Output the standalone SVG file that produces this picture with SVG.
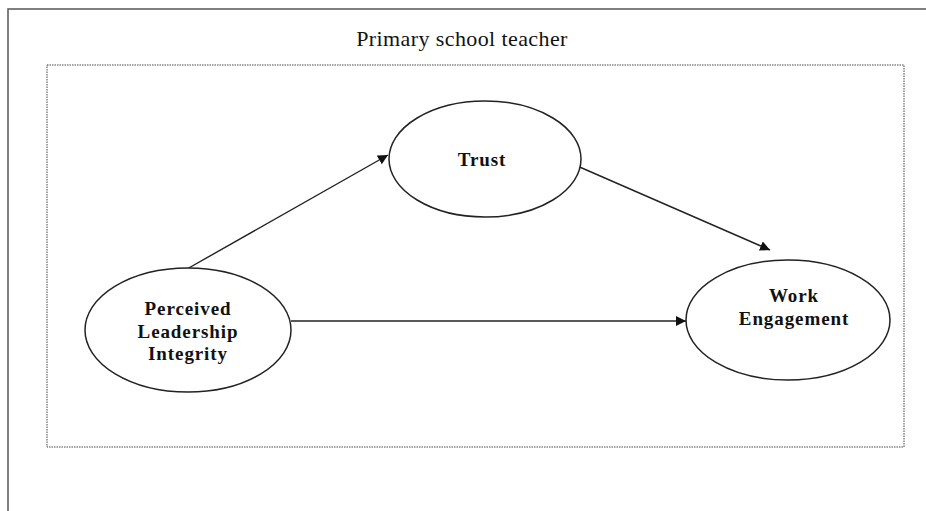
<svg xmlns="http://www.w3.org/2000/svg" width="926" height="511" viewBox="0 0 926 511">
<style>
.frame{fill:none;stroke:#555;stroke-width:1.5}
.box{fill:none;stroke:#444;stroke-width:1;stroke-dasharray:1.5 1}
.node{fill:#fff;stroke:#222;stroke-width:1.5}
.lbl{font-family:"Liberation Serif","Times New Roman",serif;font-weight:bold;font-size:19px;letter-spacing:0.9px;fill:#111;text-anchor:middle}
.title{font-family:"Liberation Serif","Times New Roman",serif;font-size:22px;letter-spacing:0.4px;fill:#111;text-anchor:middle}
.edge{stroke:#222;stroke-width:1.4;fill:none}
</style>
<defs>
<marker id="ah" viewBox="0 0 10 10" refX="10" refY="5" markerWidth="10" markerHeight="10" markerUnits="userSpaceOnUse" orient="auto">
<path d="M0,0 L10,5 L0,10 z" fill="#111"/>
</marker>
</defs>
<rect width="926" height="511" fill="#fff"/>
<path class="frame" d="M8,511 V9 H926"/>
<text class="title" x="462" y="46">Primary school teacher</text>
<rect class="box" x="47" y="65" width="857" height="382"/>
<g id="connectors">
<line class="edge" x1="187" y1="269" x2="388" y2="155" marker-end="url(#ah)"/>
<line class="edge" x1="575" y1="165" x2="770" y2="250" marker-end="url(#ah)"/>
<line class="edge" x1="291" y1="321" x2="686" y2="321" marker-end="url(#ah)"/>
</g>
<g id="trust">
<ellipse class="node" cx="485" cy="159" rx="96" ry="58"/>
<text class="lbl" x="482" y="166">Trust</text>
</g>
<g id="pli">
<ellipse class="node" cx="188" cy="330" rx="103" ry="62"/>
<text class="lbl" x="188" y="315">Perceived</text>
<text class="lbl" x="188" y="338">Leadership</text>
<text class="lbl" x="188" y="360">Integrity</text>
</g>
<g id="we">
<ellipse class="node" cx="788" cy="320" rx="102" ry="60"/>
<text class="lbl" x="794" y="302">Work</text>
<text class="lbl" x="794" y="325">Engagement</text>
</g>
</svg>
